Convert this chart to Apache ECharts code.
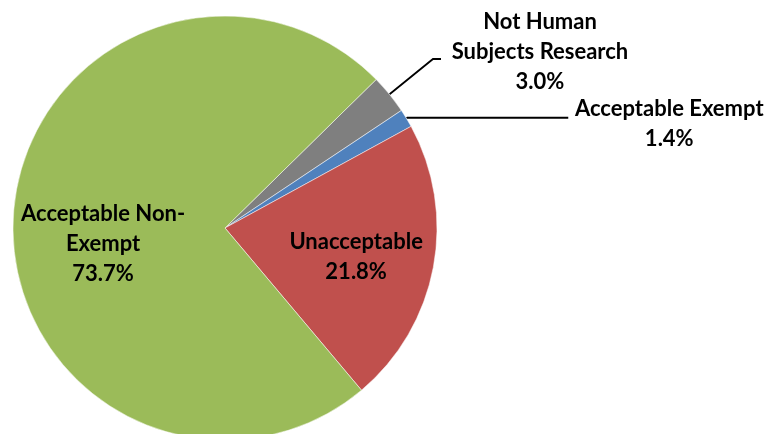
<!DOCTYPE html>
<html>
<head>
<meta charset="utf-8">
<title>IRB review outcomes</title>
<script src="https://cdn.jsdelivr.net/npm/echarts@6/dist/echarts.min.js"></script>
<style>
  html, body { margin: 0; padding: 0; background: #fff; }
  #chart { width: 767px; height: 434px; }
</style>
</head>
<body>
<div id="chart"></div>
<script>
// data, clockwise from the top of the grey slice
var categories = ['Not Human Subjects Research', 'Acceptable Exempt', 'Unacceptable', 'Acceptable Non-Exempt'];
var labelLines = [['Not Human', 'Subjects Research'], ['Acceptable Exempt'], ['Unacceptable'], ['Acceptable Non-', 'Exempt']];
var percents = [3.0, 1.4, 21.8, 73.7];
var colors = ['#7F7F7F', '#4F81BD', '#C0504D', '#9BBB59'];

var myChart = echarts.init(document.getElementById('chart'));

// label placement per slice: outside with leader line for the two small ones
var labelCfg = [
  { position: 'outside', width: 188, padding: [0, 0, 14, 0] },
  { position: 'outside', width: 192, padding: [12, 0, 0, 0] },
  { position: 'inside' },
  { position: 'inside' }
];
var lineCfg = [
  { show: true, length: 56, length2: 8 },
  { show: true, length: 1, length2: 161 },
  { show: false },
  { show: false }
];
var insideShift = { 2: [24, 9], 3: [-13, 21] };

var seriesData = categories.map(function (name, i) {
  return {
    name: name,
    value: percents[i],
    itemStyle: { color: colors[i] },
    label: labelCfg[i],
    labelLine: lineCfg[i]
  };
});

var option = {
  backgroundColor: '#fff',
  animation: false,
  series: [{
    type: 'pie',
    center: [225, 228],
    radius: 212,
    startAngle: 44.5,
    clockwise: true,
    avoidLabelOverlap: false,
    itemStyle: { borderColor: '#fff', borderWidth: 0.5 },
    label: {
      color: '#000',
      fontFamily: 'Lato',
      fontWeight: 'bold',
      fontSize: 22,
      lineHeight: 30,
      overflow: 'none',
      formatter: function (p) {
        var rows = labelLines[p.dataIndex].concat([p.value.toFixed(1) + '%']);
        return rows.map(function (r) { return '{a|' + r + '}'; }).join('\n');
      },
      rich: {
        a: { align: 'center', color: '#000', fontFamily: 'Lato', fontWeight: 'bold', fontSize: 22, lineHeight: 30 }
      }
    },
    labelLine: { lineStyle: { color: '#000', width: 1.8 }, smooth: false },
    labelLayout: function (params) {
      var s = insideShift[params.dataIndex];
      if (s) return { dx: s[0], dy: s[1] };
      return {};
    },
    data: seriesData
  }]
};
myChart.setOption(option);
</script>
</body>
</html>
